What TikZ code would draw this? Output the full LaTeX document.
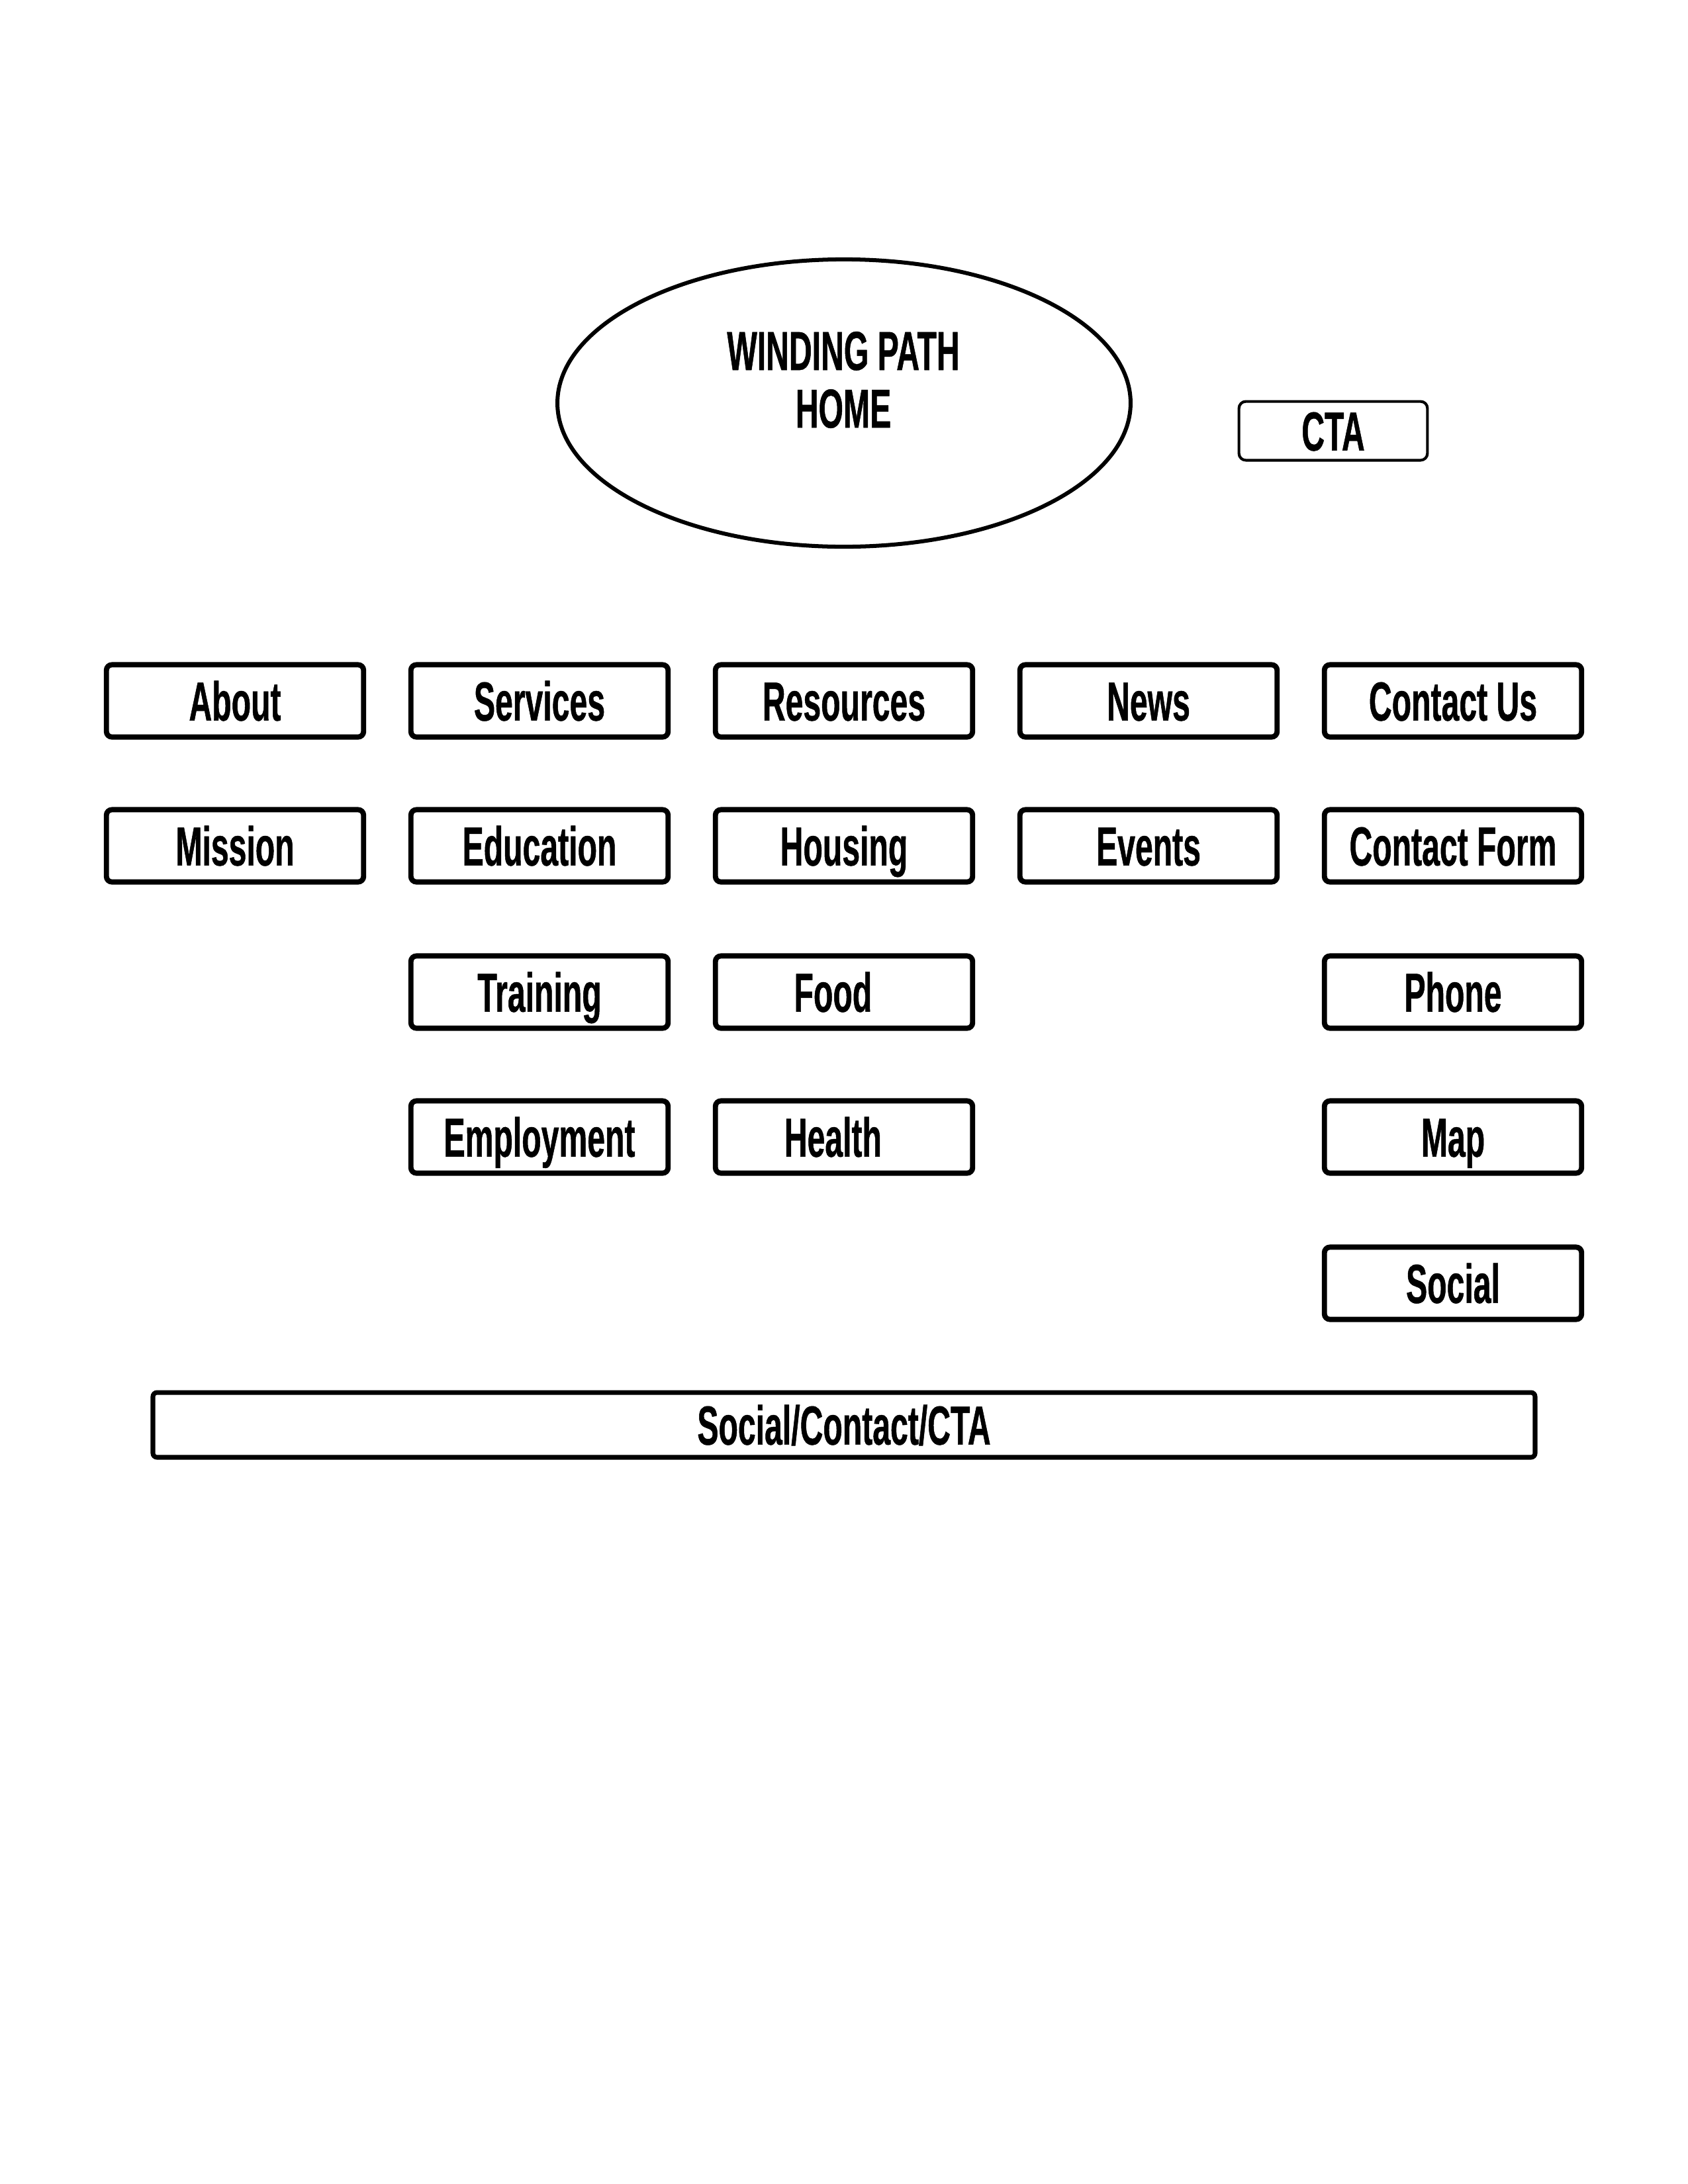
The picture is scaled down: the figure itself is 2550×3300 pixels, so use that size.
\documentclass[tikz,border=0pt]{standalone}
\usepackage{fontspec}
\setmainfont[FakeStretch=0.58,BoldFeatures={FakeBold=0.6}]{Liberation Sans}
\usetikzlibrary{shapes.geometric}
\begin{document}
\begin{tikzpicture}[x=0.2409pt,y=-0.2409pt,
  lbl/.style={font=\fontsize{20}{21}\selectfont\bfseries},
  fixedtext/.style={text height=14.3pt,text depth=0pt},
  menubox/.style={draw=black,line width=1.9pt,rounded corners=2pt,fill=white,
    minimum width=93.6pt,minimum height=26.3pt,inner sep=0pt,lbl,fixedtext},
  ctabox/.style={draw=black,line width=1pt,rounded corners=2.5pt,
    minimum width=68.6pt,minimum height=21.4pt,inner sep=0pt,lbl,fixedtext},
  barbox/.style={draw=black,line width=1.7pt,rounded corners=1.5pt,
    minimum width=503pt,minimum height=23.6pt,inner sep=0pt,lbl,fixedtext},
  homeshape/.style={draw=black,line width=1.45pt,ellipse,
    minimum width=208.6pt,minimum height=104.6pt,inner sep=0pt}]
\useasboundingbox[fill=white] (0,0) rectangle (2550,3300);

% home
\node[homeshape] (home) at (1275,609) {};
\node[lbl,align=center] (hometext) at (1274,574) {WINDING PATH\\HOME};
\node[ctabox] (cta) at (2014,651) {CTA};

% row 1
\node[menubox] (about) at (355,1059) {About};
\node[menubox] (services) at (815,1059) {Services};
\node[menubox] (resources) at (1275,1059) {Resources};
\node[menubox] (news) at (1735,1059) {News};
\node[menubox] (contact) at (2195,1059) {Contact Us};

% row 2
\node[menubox] (mission) at (355,1278) {Mission};
\node[menubox] (education) at (815,1278) {Education};
\node[menubox] (housing) at (1275,1278) {Housing};
\node[menubox] (events) at (1735,1278) {Events};
\node[menubox] (form) at (2195,1278) {Contact Form};

% row 3
\node[menubox] (training) at (815,1499) {Training};
\node[menubox] (food) at (1275,1499) {\hspace*{-8pt}Food};
\node[menubox] (phone) at (2195,1499) {Phone};

% row 4
\node[menubox] (employment) at (815,1718) {Employment};
\node[menubox] (health) at (1275,1718) {\hspace*{-8pt}Health};
\node[menubox] (map) at (2195,1718) {Map};

% row 5
\node[menubox] (social) at (2195,1939) {Social};

% footer bar
\node[barbox] (footer) at (1275,2153) {Social/Contact/CTA};
\end{tikzpicture}
\end{document}
